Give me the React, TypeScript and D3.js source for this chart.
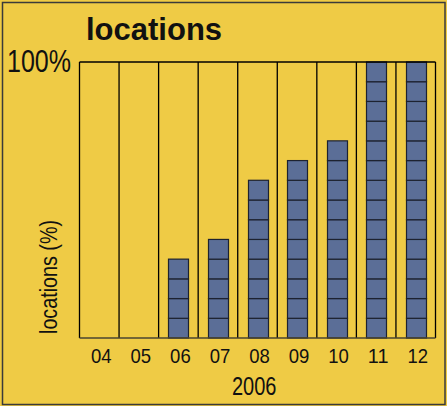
import React from 'react';
import * as d3 from 'd3';

// months of 2006 and number of filled blocks (out of 14 = 100%)
const months = ['04', '05', '06', '07', '08', '09', '10', '11', '12'];
const locations = [0, 0, 4, 5, 8, 9, 10, 14, 14];
const maxBlocks = 14;
const yTickLabel = '100%';
const title = 'locations';
const yTitle = 'locations (%)';
const xTitle = '2006';

const width = 447;
const height = 406;
const margin = { top: 62, right: 11.5, bottom: 68, left: 79.5 };
const bg = '#EFCB45';
const barColor = '#5B6E97';
const font = '"Liberation Sans", Arial, sans-serif';

// the original uses a condensed face, so squeeze regular text with textLength
const Narrow = ({ len, children, ...rest }: any) => (
  <text fontFamily={font} fill="#111" textLength={len} lengthAdjust="spacingAndGlyphs" {...rest}>
    {children}
  </text>
);

const App = () => {
  const x = d3.scaleBand().domain(months).range([margin.left, width - margin.right]);
  const y = d3.scaleLinear().domain([0, maxBlocks]).range([height - margin.bottom, margin.top]);
  const barW = 20;
  const bottom = y(0);

  return (
    <svg width={width} height={height} style={{ position: 'absolute', left: 0, top: 0 }}>
      <rect x={0} y={0} width={width} height={height} fill={bg} />
      <rect x={2.5} y={2.5} width={width - 4.5} height={height - 4} fill="none" stroke="#3a3a3a" strokeWidth={1.5} />

      <text x={86} y={40} fontFamily={font} fontWeight="bold" fontSize={31} fill="#111">
        {title}
      </text>

      {/* blocks */}
      {months.map((m, i) => {
        const cx = x(m)! + x.bandwidth() / 2;
        return d3.range(locations[i]).map((k) => (
          <rect
            key={m + k}
            x={Math.round(cx - barW / 2) + 0.5}
            y={y(k + 1)}
            width={barW}
            height={y(k) - y(k + 1)}
            fill={barColor}
            stroke="#1d2230"
            strokeWidth={1.2}
          />
        ));
      })}

      {/* column separators */}
      {months.concat(['end']).map((m, i) => {
        const xx = margin.left + i * x.bandwidth();
        return <line key={m} x1={xx} x2={xx} y1={y(maxBlocks)} y2={bottom} stroke="#000" strokeWidth={1.3} />;
      })}
      <line x1={margin.left} x2={width - margin.right} y1={y(maxBlocks)} y2={y(maxBlocks)} stroke="#000" strokeWidth={1.3} />
      <line x1={margin.left} x2={width - margin.right} y1={bottom} y2={bottom} stroke="#4a4430" strokeWidth={1.3} />

      <Narrow x={7} y={72} len={64} fontSize={32}>
        {yTickLabel}
      </Narrow>

      {months.map((m) => (
        <Narrow key={m} x={x(m)! + x.bandwidth() / 2 + 2 - 10.3} y={363} len={20.6} fontSize={21}>
          {m}
        </Narrow>
      ))}
      <Narrow x={232} y={395} len={44.5} fontSize={26}>
        {xTitle}
      </Narrow>
      <Narrow transform="translate(57, 334) rotate(-90)" len={114} fontSize={23}>
        {yTitle}
      </Narrow>
    </svg>
  );
};

export default App;
